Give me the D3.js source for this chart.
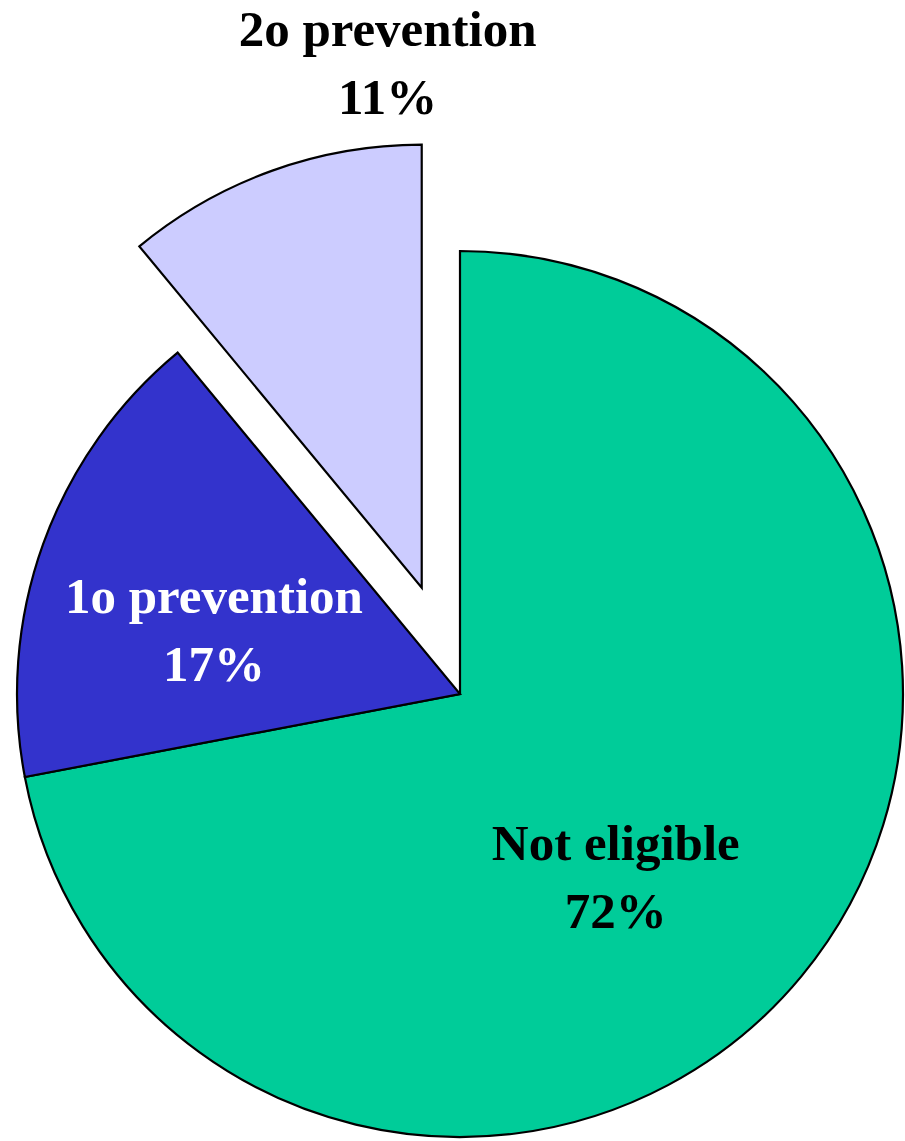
<!DOCTYPE html>
<html>
<head>
<meta charset="utf-8">
<script src="https://cdn.jsdelivr.net/npm/d3@7"></script>
<style>
  body { margin: 0; background: #fff; }
</style>
</head>
<body>
<div id="chart"></div>
<script>
// Slice data
const categories = ['Not eligible', '1o prevention', '2o prevention'];
const values = [72, 17, 11];
const colors = ['#00CC99', '#3333CC', '#CCCCFF'];
const labelColors = ['#000', '#fff', '#000'];

// Layout
const width = 905, height = 1141;
const cx = 460, cy = 694, radius = 443;
const explode = [0, 0, 113];
// label anchor as [distance, angle shift in degrees] from the slice mid angle
const labelPos = [[228, 7.3], [259, -1.6], [543, 16.2]];
const fontSize = 51, lineGap = 68;

const svg = d3.select('#chart').append('svg')
    .attr('width', width).attr('height', height);

const g = svg.append('g').attr('transform', `translate(${cx},${cy})`);

const pie = d3.pie().sort(null).value(d => d.value);
const arcs = pie(categories.map((c, i) => ({name: c, value: values[i], i})));

const arc = d3.arc().innerRadius(0).outerRadius(radius);

const offset = (d, dist) => {
    const a = (d.startAngle + d.endAngle) / 2;
    return [Math.sin(a) * dist, -Math.cos(a) * dist];
};

g.selectAll('path.slice')
    .data(arcs)
    .join('path')
    .classed('slice', true)
    .attr('d', arc)
    .attr('transform', d => `translate(${offset(d, explode[d.data.i])})`)
    .attr('fill', d => colors[d.data.i])
    .attr('stroke', '#000')
    .attr('stroke-width', 2.2)
    .attr('stroke-linejoin', 'miter');

const labels = g.selectAll('text.label')
    .data(arcs)
    .join('text')
    .classed('label', true)
    .attr('font-family', '"Liberation Serif", "Times New Roman", serif')
    .attr('font-weight', 'bold')
    .attr('font-size', fontSize)
    .attr('text-anchor', 'middle')
    .attr('fill', d => labelColors[d.data.i])
    .attr('transform', d => {
        const i = d.data.i;
        const a = (d.startAngle + d.endAngle) / 2 + labelPos[i][1] * Math.PI / 180;
        const [ex, ey] = offset(d, explode[i]);
        return `translate(${ex + Math.sin(a) * labelPos[i][0]},${ey - Math.cos(a) * labelPos[i][0]})`;
    });

labels.append('tspan').attr('x', 0).attr('y', 0).text(d => d.data.name);
labels.append('tspan').attr('x', 0).attr('y', lineGap).text(d => `${d.data.value}%`);
</script>
</body>
</html>
